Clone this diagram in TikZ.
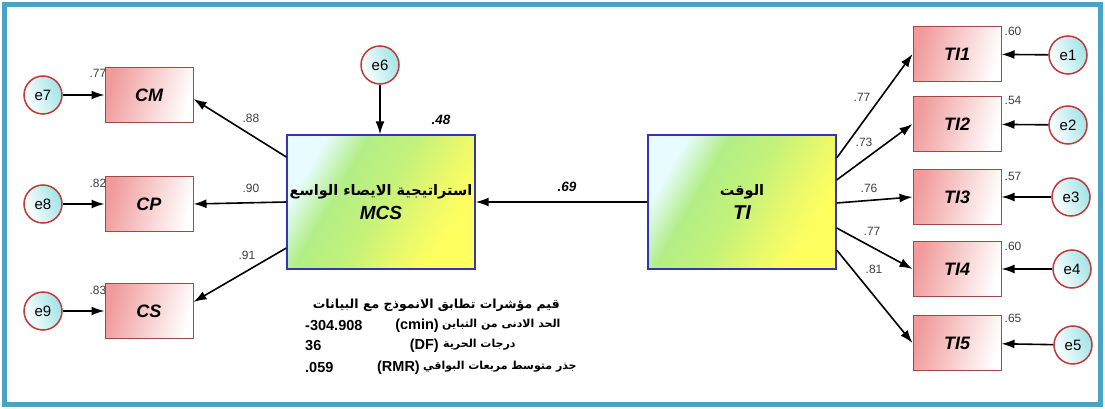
\documentclass[tikz,border=0pt]{standalone}
\usepackage{fontspec}
\setmainfont{Liberation Sans}
\newfontfamily\arabicfont[Script=Arabic]{DejaVu Sans}
\TeXXeTstate=1
\usetikzlibrary{arrows.meta}
\definecolor{framec}{HTML}{4BA3C3}
\definecolor{obsborder}{HTML}{A04848}
\definecolor{pinkc}{HTML}{F09A9A}
\definecolor{errborder}{HTML}{C03A3A}
\definecolor{cyanc}{HTML}{9FE4E6}
\definecolor{latborder}{HTML}{3434B8}
\definecolor{lattop}{HTML}{E8FCFF}
\definecolor{latmidA}{HTML}{B2EE86}
\definecolor{latmidB}{HTML}{C4F27A}
\definecolor{latyg}{HTML}{E8F86C}
\definecolor{latbot}{HTML}{FFFF60}
\pgfdeclarehorizontalshading{latshade}{100bp}{color(0bp)=(lattop); color(26bp)=(lattop); color(37bp)=(latmidA); color(50bp)=(latmidB); color(62bp)=(latyg); color(72bp)=(latbot); color(100bp)=(latbot)}
\begin{document}
\begin{tikzpicture}[x=1pt,y=-1pt,
  obs/.style={draw=obsborder, line width=1pt, left color=pinkc, right color=white, shading angle=75,
    minimum width=88pt, minimum height=55pt, inner sep=0pt,
    font=\fontsize{18}{18}\selectfont\bfseries\itshape},
  err/.style={circle, draw=errborder, line width=1.5pt, left color=white, right color=cyanc, shading angle=110,
    minimum size=38pt, inner sep=0pt, font=\fontsize{15}{15}\selectfont},
  lat/.style={draw=latborder, line width=1.3pt, shade, shading=latshade, shading angle=-30,
    minimum width=188pt, minimum height=134pt, align=center, inner sep=0pt},
  arr/.style={-{Latex[length=13pt,width=9pt]}, line width=1.6pt},
  lbl/.style={font=\fontsize{12}{12}\selectfont, text=black!75, inner sep=1pt},
  blbl/.style={font=\fontsize{13.5}{13.5}\selectfont\bfseries\itshape, inner sep=1pt},
  fit/.style={font=\fontsize{14.5}{14.5}\selectfont\bfseries, inner sep=0pt},
  fitar/.style={font=\arabicfont\fontsize{11}{11}\selectfont\bfseries, inner sep=0pt}
]
\useasboundingbox (0,0) rectangle (1105,409);
\fill[white] (0,0) rectangle (1105,409);
\draw[framec, line width=5pt] (4.5,4.5) rectangle (1100.5,404.5);

% latent variables
\node[lat] (MCS) at (381,202) {{\arabicfont\fontsize{14.5}{14.5}\selectfont\bfseries\beginR استراتيجية الايصاء الواسع\endR}\\[6pt]{\fontsize{19}{19}\selectfont\bfseries\itshape MCS}};
\node[lat] (TI) at (742,202) {{\arabicfont\fontsize{14.5}{14.5}\selectfont\bfseries\beginR الوقت\endR}\\[6pt]{\fontsize{20}{20}\selectfont\bfseries\itshape TI}};

% left indicators
\node[obs] (CM) at (149,95) {CM};
\node[obs] (CP) at (149,204) {CP};
\node[obs] (CS) at (149,311) {CS};
\node[err] (e7) at (43,95) {e7};
\node[err] (e8) at (43,204) {e8};
\node[err] (e9) at (43,311) {e9};
\node[err] (e6) at (380,65) {e6};

% right indicators
\node[obs] (TI1) at (957,54) {TI1};
\node[obs] (TI2) at (957,124) {TI2};
\node[obs] (TI3) at (957,197) {TI3};
\node[obs] (TI4) at (957,269) {TI4};
\node[obs] (TI5) at (957,343) {TI5};
\node[err] (e1) at (1068,55) {e1};
\node[err] (e2) at (1068,125) {e2};
\node[err] (e3) at (1071,197) {e3};
\node[err] (e4) at (1072,269) {e4};
\node[err] (e5) at (1073,345) {e5};

% arrows
\draw[arr] (e7) -- (CM);
\draw[arr] (e8) -- (CP);
\draw[arr] (e9) -- (CS);
\draw[arr] (e6) -- (MCS.north -| e6);
\draw[arr] ([yshift=45pt]MCS.west) -- ([yshift=-4pt]CM.east);
\draw[arr] (MCS.west) -- (CP.east);
\draw[arr] ([yshift=-46pt]MCS.west) -- ([yshift=9pt]CS.east);
\draw[arr] (TI.west) -- (MCS.east);
\draw[arr] ([yshift=44pt]TI.east) -- (TI1.west);
\draw[arr] ([yshift=22pt]TI.east) -- (TI2.west);
\draw[arr] ([yshift=-1pt]TI.east) -- (TI3.west);
\draw[arr] ([yshift=-26pt]TI.east) -- (TI4.west);
\draw[arr] ([yshift=-48pt]TI.east) -- (TI5.west);
\draw[arr] (e1) -- (TI1);
\draw[arr] (e2) -- (TI2);
\draw[arr] (e3) -- (TI3);
\draw[arr] (e4) -- (TI4);
\draw[arr] (e5) -- (TI5);

% labels
\node[lbl] (l77) at (98,73) {.77};
\node[lbl] (l82) at (98,183) {.82};
\node[lbl] (l83) at (98,290) {.83};
\node[lbl] (l88) at (251,118) {.88};
\node[lbl] (l90) at (251,188) {.90};
\node[lbl] (l91) at (247,255) {.91};
\node[blbl] (l48) at (441,120) {.48};
\node[blbl] (l69) at (567,187) {.69};
\node[lbl] (r1) at (862,97) {.77};
\node[lbl] (r2) at (864,142) {.73};
\node[lbl] (r3) at (869,188) {.76};
\node[lbl] (r4) at (872,231) {.77};
\node[lbl] (r5) at (874,269) {.81};
\node[lbl] (s1) at (1013,31) {.60};
\node[lbl] (s2) at (1013,100) {.54};
\node[lbl] (s3) at (1013,176) {.57};
\node[lbl] (s4) at (1013,246) {.60};
\node[lbl] (s5) at (1013,318) {.65};

% fit indices
\node[fitar, anchor=east, font=\arabicfont\fontsize{12.5}{12.5}\selectfont\bfseries] (f1) at (560,305) {\beginR قيم مؤشرات تطابق الانموذج مع البيانات\endR};
\node[fit, anchor=west] (f2n) at (305,326) {-304.908};
\node[fit, anchor=east] (f2p) at (439,326) {(cmin)};
\node[fitar, anchor=west] (f2a) at (442,325) {\beginR الحد الادنى من التباين\endR};
\node[fit, anchor=west] (f3n) at (305,346) {36};
\node[fit, anchor=east] (f3p) at (439,346) {(DF)};
\node[fitar, anchor=west] (f3a) at (443,345) {\beginR درجات الحرية\endR};
\node[fit, anchor=west] (f4n) at (305,368) {.059};
\node[fit, anchor=east] (f4p) at (420,368) {(RMR)};
\node[fitar, anchor=west] (f4a) at (423,367) {\beginR جذر متوسط مربعات البواقي\endR};
\end{tikzpicture}
\end{document}
